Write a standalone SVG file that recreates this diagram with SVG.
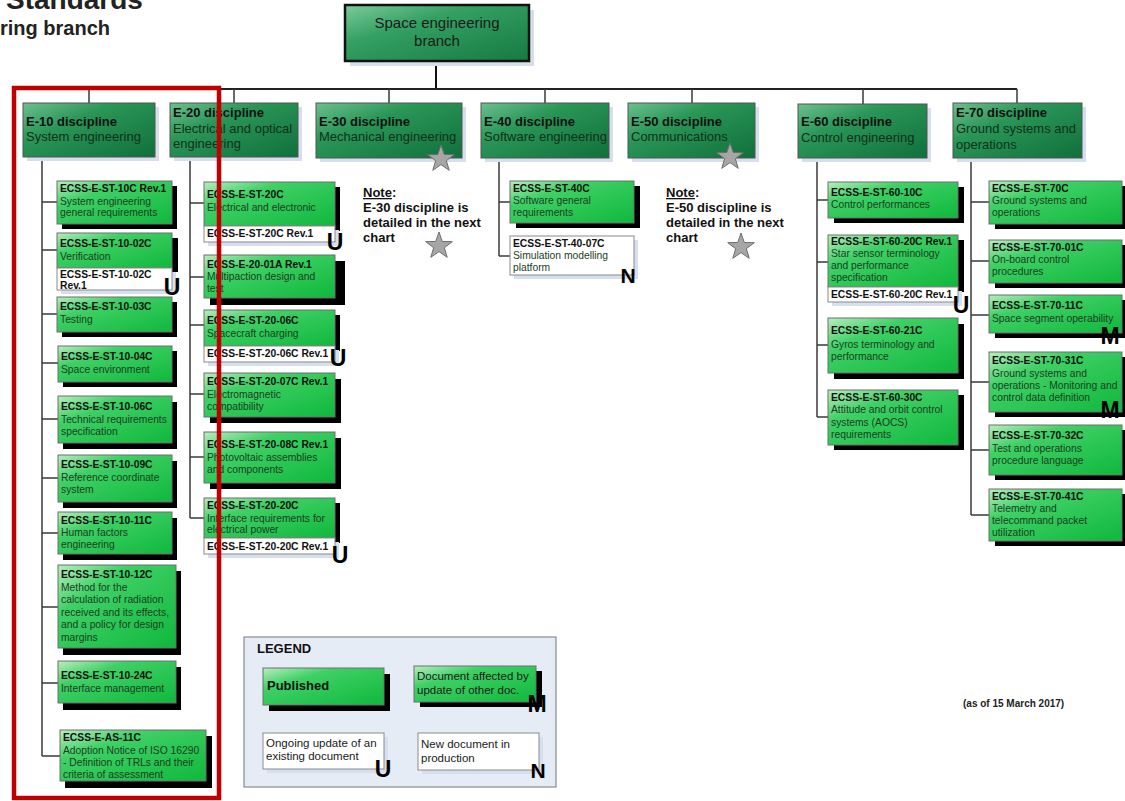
<svg xmlns="http://www.w3.org/2000/svg" width="1125" height="801" viewBox="0 0 1125 801">
<defs>
<linearGradient id="gD" x1="0" y1="0" x2="1" y2="1"><stop offset="0" stop-color="#6cc08f"/><stop offset="0.35" stop-color="#2a9658"/><stop offset="1" stop-color="#10703a"/></linearGradient>
<linearGradient id="gM" x1="0" y1="0" x2="1" y2="1"><stop offset="0" stop-color="#7ccb9c"/><stop offset="0.35" stop-color="#34a062"/><stop offset="1" stop-color="#167a41"/></linearGradient>
<linearGradient id="gG" x1="0" y1="0" x2="1" y2="1"><stop offset="0" stop-color="#b8eec0"/><stop offset="0.3" stop-color="#3fd066"/><stop offset="1" stop-color="#0fb83c"/></linearGradient>
<path id="star" d="M0,-14 L3.29,-4.53 L13.31,-4.33 L5.33,1.73 L8.23,11.33 L0,5.6 L-8.23,11.33 L-5.33,1.73 L-13.31,-4.33 L-3.29,-4.53 Z"/>
<style>
text{font-family:"Liberation Sans",Arial,sans-serif}
.disc{fill:url(#gD);stroke:#555;stroke-width:1}
.ls{fill:#d6dfee}
.doc{fill:url(#gG);stroke:#6f6f6f;stroke-width:1}
.bs{fill:#000}
.upd{fill:#fff;stroke:#8a8a8a;stroke-width:1}
.dh{font-weight:bold;font-size:13px;fill:#111}
.ds{font-size:13px;fill:#10301a}
.c{font-weight:bold;font-size:10.3px;fill:#111}
.d{font-size:10.3px;fill:#1b3d22}
.ic{font-weight:bold;font-size:23px;fill:#000;text-anchor:middle}
.nt{font-weight:bold;font-size:13px;fill:#111}
.lt{font-size:11.5px;fill:#1a1a1a}
.st{fill:#a6a6a6;stroke:#6e6e6e;stroke-width:1}
.cn{stroke:#3a3a3a;stroke-width:1.5;fill:none}
</style>
</defs>
<rect width="1125" height="801" fill="#fff"/>

<g id="title">
<text x="6" y="9" style="font-weight:bold;font-size:28px" fill="#222">Standards</text>
<text x="0" y="35" style="font-weight:bold;font-size:20px" fill="#222">ring branch</text>
</g>

<g id="connectors">
<line class="cn" x1="436" y1="61" x2="436" y2="89" style="stroke:#111;stroke-width:2"/>
<line class="cn" x1="89" y1="89" x2="1017" y2="89" style="stroke:#222;stroke-width:1.8"/>
<path class="cn" d="M89,89V103M234,89V103M389,89V103M545,89V103M692,89V103M863,89V104M1017,89V103"/>
<path class="cn" d="M42,157V756M42,202H57M42,250H57M42,314H57M42,363H58M42,419H58M42,478H58M42,533H58M42,607H58M42,683H58M42,756H60"/>
<path class="cn" d="M190,157V518M190,203H204M190,277H204M190,325H204M190,394H204M190,457H204M190,518H204"/>
<path class="cn" d="M499,158V256M499,202H510M499,256H510"/>
<path class="cn" d="M817,158V417M817,200H828M817,262H828M817,345H828M817,417H828"/>
<path class="cn" d="M971,158V515M971,202H989M971,261H989M971,315H989M971,382H989M971,450H989M971,515H989"/>
</g>

<g id="root">
<rect class="ls" x="350" y="10" width="184" height="56"/>
<rect x="345" y="5" width="184" height="56" fill="url(#gM)" stroke="#111" stroke-width="2.5"/>
<text x="437" y="28" text-anchor="middle" style="font-size:15px" fill="#1a1a1a">Space engineering</text>
<text x="437" y="46" text-anchor="middle" style="font-size:15px" fill="#1a1a1a">branch</text>
</g>

<g id="E10">
<rect class="ls" x="27" y="107" width="132" height="54"/>
<rect class="disc" x="23" y="103" width="132" height="54"/>
<text class="dh" x="26" y="126">E-10 discipline</text>
<text class="ds" x="26" y="141">System engineering</text>
</g>
<g id="E20">
<rect class="ls" x="174" y="107" width="128" height="54"/>
<rect class="disc" x="170" y="103" width="128" height="54"/>
<text class="dh" x="173" y="117">E-20 discipline</text>
<text class="ds" x="173" y="133">Electrical and optical</text>
<text class="ds" x="173" y="148">engineering</text>
</g>
<g id="E30">
<rect class="ls" x="320" y="107" width="146" height="55"/>
<rect class="disc" x="316" y="103" width="146" height="55"/>
<text class="dh" x="319" y="126">E-30 discipline</text>
<text class="ds" x="319" y="141">Mechanical engineering</text>
<use href="#star" class="st" x="441" y="159"/>
</g>
<g id="E40">
<rect class="ls" x="485" y="107" width="128" height="55"/>
<rect class="disc" x="481" y="103" width="128" height="55"/>
<text class="dh" x="484" y="126">E-40 discipline</text>
<text class="ds" x="484" y="141">Software engineering</text>
</g>
<g id="E50">
<rect class="ls" x="632" y="107" width="127" height="55"/>
<rect class="disc" x="628" y="103" width="127" height="55"/>
<text class="dh" x="631" y="126">E-50 discipline</text>
<text class="ds" x="631" y="141">Communications</text>
<use href="#star" class="st" x="730" y="157"/>
</g>
<g id="E60">
<rect class="ls" x="802" y="108" width="129" height="54"/>
<rect class="disc" x="798" y="104" width="129" height="54"/>
<text class="dh" x="801" y="126">E-60 discipline</text>
<text class="ds" x="801" y="142">Control engineering</text>
</g>
<g id="E70">
<rect class="ls" x="957" y="107" width="129" height="55"/>
<rect class="disc" x="953" y="103" width="129" height="55"/>
<text class="dh" x="956" y="117">E-70 discipline</text>
<text class="ds" x="956" y="133">Ground systems and</text>
<text class="ds" x="956" y="149">operations</text>
</g>

<g id="note30">
<text class="nt" x="363" y="197" text-decoration="underline">Note</text><text class="nt" x="392" y="197">:</text>
<text class="nt"><tspan x="363" y="212">E-30 discipline is</tspan><tspan x="363" y="227">detailed in the next</tspan><tspan x="363" y="242">chart</tspan></text>
<use href="#star" class="st" x="439" y="246"/>
</g>
<g id="note50">
<text class="nt" x="666" y="197" text-decoration="underline">Note</text><text class="nt" x="695" y="197">:</text>
<text class="nt"><tspan x="666" y="212">E-50 discipline is</tspan><tspan x="666" y="227">detailed in the next</tspan><tspan x="666" y="242">chart</tspan></text>
<use href="#star" class="st" x="741" y="247"/>
</g>

<!-- E-10 documents -->
<g id="d10-1"><rect class="bs" x="62" y="186" width="115" height="43"/><rect class="doc" x="57" y="181" width="115" height="43"/>
<text class="c" x="60" y="192">ECSS-E-ST-10C Rev.1</text><text class="d"><tspan x="60" y="205">System engineering</tspan><tspan x="60" y="216">general requirements</tspan></text></g>
<g id="d10-2"><rect class="bs" x="62" y="238" width="116" height="34"/><rect class="ls" x="61" y="272" width="115" height="22"/><rect class="doc" x="57" y="233" width="115" height="35"/><rect class="upd" x="57" y="268" width="115" height="22"/>
<text class="c" x="60" y="247">ECSS-E-ST-10-02C</text><text class="d" x="60" y="260">Verification</text>
<text class="c"><tspan x="60" y="278">ECSS-E-ST-10-02C</tspan><tspan x="60" y="289">Rev.1</tspan></text><text class="ic" x="172" y="295">U</text></g>
<g id="d10-3"><rect class="bs" x="62" y="302" width="115" height="35"/><rect class="doc" x="57" y="297" width="115" height="35"/>
<text class="c" x="60" y="310">ECSS-E-ST-10-03C</text><text class="d" x="60" y="323">Testing</text></g>
<g id="d10-4"><rect class="bs" x="63" y="351" width="114" height="36"/><rect class="doc" x="58" y="346" width="114" height="36"/>
<text class="c" x="61" y="360">ECSS-E-ST-10-04C</text><text class="d" x="61" y="373">Space environment</text></g>
<g id="d10-5"><rect class="bs" x="63" y="402" width="114" height="47"/><rect class="doc" x="58" y="396" width="114" height="47"/>
<text class="c" x="61" y="410">ECSS-E-ST-10-06C</text><text class="d"><tspan x="61" y="423">Technical requirements</tspan><tspan x="61" y="435">specification</tspan></text></g>
<g id="d10-6"><rect class="bs" x="63" y="461" width="114" height="47"/><rect class="doc" x="58" y="455" width="114" height="47"/>
<text class="c" x="61" y="468">ECSS-E-ST-10-09C</text><text class="d"><tspan x="61" y="481">Reference coordinate</tspan><tspan x="61" y="493">system</tspan></text></g>
<g id="d10-7"><rect class="bs" x="63" y="518" width="114" height="42"/><rect class="doc" x="58" y="512" width="114" height="42"/>
<text class="c" x="61" y="524">ECSS-E-ST-10-11C</text><text class="d"><tspan x="61" y="536">Human factors</tspan><tspan x="61" y="548">engineering</tspan></text></g>
<g id="d10-8"><rect class="bs" x="63" y="571" width="118" height="84"/><rect class="doc" x="58" y="565" width="118" height="83"/>
<text class="c" x="61" y="578">ECSS-E-ST-10-12C</text><text class="d"><tspan x="61" y="591">Method for the</tspan><tspan x="61" y="603">calculation of radiation</tspan><tspan x="61" y="616">received and its effects,</tspan><tspan x="61" y="628">and a policy for design</tspan><tspan x="61" y="641">margins</tspan></text></g>
<g id="d10-9"><rect class="bs" x="63" y="667" width="118" height="43"/><rect class="doc" x="58" y="661" width="118" height="42"/>
<text class="c" x="61" y="679">ECSS-E-ST-10-24C</text><text class="d" x="61" y="692">Interface management</text></g>
<g id="d10-10"><rect class="bs" x="65" y="736" width="147" height="52"/><rect class="doc" x="60" y="730" width="146" height="51"/>
<text class="c" x="63" y="741">ECSS-E-AS-11C</text><text class="d"><tspan x="63" y="754">Adoption Notice of ISO 16290</tspan><tspan x="63" y="766">- Definition of TRLs and their</tspan><tspan x="63" y="778">criteria of assessment</tspan></text></g>

<!-- E-20 documents -->
<g id="d20-1"><rect class="bs" x="209" y="187" width="131" height="44"/><rect class="ls" x="208" y="230" width="131" height="16"/><rect class="doc" x="204" y="182" width="131" height="44"/><rect class="upd" x="204" y="226" width="131" height="16"/>
<text class="c" x="207" y="198">ECSS-E-ST-20C</text><text class="d" x="207" y="211">Electrical and electronic</text>
<text class="c" x="207" y="237">ECSS-E-ST-20C Rev.1</text><text class="ic" x="335" y="250">U</text></g>
<g id="d20-2"><rect class="bs" x="210" y="261" width="135" height="44"/><rect class="doc" x="204" y="255" width="131" height="43"/>
<text class="c" x="207" y="268">ECSS-E-20-01A Rev.1</text><text class="d"><tspan x="207" y="280">Multipaction design and</tspan><tspan x="207" y="292">test</tspan></text></g>
<g id="d20-3"><rect class="bs" x="209" y="315" width="131" height="36"/><rect class="ls" x="208" y="350" width="131" height="16"/><rect class="doc" x="204" y="310" width="131" height="36"/><rect class="upd" x="204" y="346" width="131" height="16"/>
<text class="c" x="207" y="324">ECSS-E-ST-20-06C</text><text class="d" x="207" y="337">Spacecraft charging</text>
<text class="c" x="207" y="357">ECSS-E-ST-20-06C Rev.1</text><text class="ic" x="338" y="366">U</text></g>
<g id="d20-4"><rect class="bs" x="210" y="379" width="131" height="44"/><rect class="doc" x="204" y="373" width="131" height="44"/>
<text class="c" x="207" y="385">ECSS-E-ST-20-07C Rev.1</text><text class="d"><tspan x="207" y="398">Electromagnetic</tspan><tspan x="207" y="410">compatibility</tspan></text></g>
<g id="d20-5"><rect class="bs" x="210" y="438" width="131" height="51"/><rect class="doc" x="204" y="432" width="131" height="51"/>
<text class="c" x="207" y="448">ECSS-E-ST-20-08C Rev.1</text><text class="d"><tspan x="207" y="461">Photovoltaic assemblies</tspan><tspan x="207" y="473">and components</tspan></text></g>
<g id="d20-6"><rect class="bs" x="209" y="503" width="131" height="40"/><rect class="ls" x="208" y="542" width="131" height="16"/><rect class="doc" x="204" y="498" width="131" height="40"/><rect class="upd" x="204" y="538" width="131" height="16"/>
<text class="c" x="207" y="509">ECSS-E-ST-20-20C</text><text class="d"><tspan x="207" y="522">Interface requirements for</tspan><tspan x="207" y="533">electrical power</tspan></text>
<text class="c" x="207" y="550">ECSS-E-ST-20-20C Rev.1</text><text class="ic" x="340" y="563">U</text></g>

<!-- E-40 documents -->
<g id="d40-1"><rect class="bs" x="516" y="186" width="124" height="42"/><rect class="doc" x="510" y="181" width="124" height="42"/>
<text class="c" x="513" y="192">ECSS-E-ST-40C</text><text class="d"><tspan x="513" y="204">Software general</tspan><tspan x="513" y="216">requirements</tspan></text></g>
<g id="d40-2"><rect class="ls" x="514" y="240" width="124" height="39"/><rect class="upd" x="510" y="236" width="124" height="39"/>
<text class="c" x="513" y="247">ECSS-E-ST-40-07C</text><text class="d"><tspan x="513" y="259">Simulation modelling</tspan><tspan x="513" y="271">platform</tspan></text><text class="ic" x="628" y="283" style="font-size:21px">N</text></g>

<!-- E-60 documents -->
<g id="d60-1"><rect class="bs" x="834" y="187" width="130" height="36"/><rect class="doc" x="828" y="182" width="130" height="36"/>
<text class="c" x="831" y="196">ECSS-E-ST-60-10C</text><text class="d" x="831" y="208">Control performances</text></g>
<g id="d60-2"><rect class="bs" x="833" y="240" width="131" height="52"/><rect class="ls" x="832" y="291" width="130" height="15"/><rect class="doc" x="828" y="235" width="130" height="52"/><rect class="upd" x="828" y="287" width="130" height="15"/>
<text class="c" x="831" y="245">ECSS-E-ST-60-20C Rev.1</text><text class="d"><tspan x="831" y="257">Star sensor terminology</tspan><tspan x="831" y="269">and performance</tspan><tspan x="831" y="281">specification</tspan></text>
<text class="c" x="831" y="298">ECSS-E-ST-60-20C Rev.1</text><text class="ic" x="961" y="313">U</text></g>
<g id="d60-3"><rect class="bs" x="834" y="324" width="130" height="55"/><rect class="doc" x="828" y="318" width="130" height="55"/>
<text class="c" x="831" y="334">ECSS-E-ST-60-21C</text><text class="d"><tspan x="831" y="348">Gyros terminology and</tspan><tspan x="831" y="360">performance</tspan></text></g>
<g id="d60-4"><rect class="bs" x="834" y="395" width="130" height="55"/><rect class="doc" x="828" y="390" width="130" height="55"/>
<text class="c" x="831" y="401">ECSS-E-ST-60-30C</text><text class="d"><tspan x="831" y="413">Attitude and orbit control</tspan><tspan x="831" y="426">systems (AOCS)</tspan><tspan x="831" y="438">requirements</tspan></text></g>

<!-- E-70 documents -->
<g id="d70-1"><rect class="bs" x="995" y="186" width="133" height="43"/><rect class="doc" x="989" y="181" width="133" height="43"/>
<text class="c" x="992" y="192">ECSS-E-ST-70C</text><text class="d"><tspan x="992" y="204">Ground systems and</tspan><tspan x="992" y="216">operations</tspan></text></g>
<g id="d70-2"><rect class="bs" x="995" y="245" width="133" height="43"/><rect class="doc" x="989" y="240" width="133" height="43"/>
<text class="c" x="992" y="251">ECSS-E-ST-70-01C</text><text class="d"><tspan x="992" y="263">On-board control</tspan><tspan x="992" y="275">procedures</tspan></text></g>
<g id="d70-3"><rect class="bs" x="995" y="300" width="133" height="38"/><rect class="doc" x="989" y="295" width="133" height="38"/>
<text class="c" x="992" y="309">ECSS-E-ST-70-11C</text><text class="d" x="992" y="322">Space segment operability</text><text class="ic" x="1110" y="344">M</text></g>
<g id="d70-4"><rect class="bs" x="995" y="357" width="133" height="60"/><rect class="doc" x="989" y="352" width="133" height="60"/>
<text class="c" x="992" y="364">ECSS-E-ST-70-31C</text><text class="d"><tspan x="992" y="377">Ground systems and</tspan><tspan x="992" y="389">operations - Monitoring and</tspan><tspan x="992" y="401">control data definition</tspan></text><text class="ic" x="1110" y="418">M</text></g>
<g id="d70-5"><rect class="bs" x="995" y="430" width="133" height="50"/><rect class="doc" x="989" y="425" width="133" height="50"/>
<text class="c" x="992" y="439">ECSS-E-ST-70-32C</text><text class="d"><tspan x="992" y="452">Test and operations</tspan><tspan x="992" y="464">procedure language</tspan></text></g>
<g id="d70-6"><rect class="bs" x="995" y="494" width="133" height="52"/><rect class="doc" x="989" y="489" width="133" height="52"/>
<text class="c" x="992" y="500">ECSS-E-ST-70-41C</text><text class="d"><tspan x="992" y="512">Telemetry and</tspan><tspan x="992" y="524">telecommand packet</tspan><tspan x="992" y="536">utilization</tspan></text></g>

<!-- Legend -->
<g id="legend">
<rect x="244" y="637" width="312" height="150" fill="#e6ecf6" stroke="#8a8a8a" stroke-width="1.2"/>
<text x="257" y="653" style="font-weight:bold;font-size:13px" fill="#111">LEGEND</text>
<rect class="bs" x="269" y="674" width="121" height="37"/><rect class="doc" x="263" y="668" width="121" height="37"/>
<text x="267" y="690" style="font-weight:bold;font-size:13px" fill="#111">Published</text>
<rect class="bs" x="420" y="671" width="122" height="36"/><rect class="doc" x="414" y="666" width="122" height="36"/>
<text class="lt"><tspan x="417" y="680">Document affected by</tspan><tspan x="417" y="694">update of other doc.</tspan></text>
<text class="ic" x="537" y="712">M</text>
<rect class="ls" x="267" y="737" width="121" height="36"/><rect class="upd" x="263" y="733" width="121" height="36"/>
<text class="lt"><tspan x="266" y="747">Ongoing update of an</tspan><tspan x="266" y="760">existing document</tspan></text>
<text class="ic" x="383" y="777">U</text>
<rect class="ls" x="422" y="737" width="121" height="37"/><rect class="upd" x="418" y="733" width="121" height="37"/>
<text class="lt"><tspan x="421" y="748">New document in</tspan><tspan x="421" y="762">production</tspan></text>
<text class="ic" x="538" y="778" style="font-size:21px">N</text>
</g>

<text x="963" y="707" style="font-weight:bold;font-size:10px" fill="#222">(as of 15 March 2017)</text>

<rect id="highlight" x="14" y="88" width="205" height="710" fill="none" stroke="#c00000" stroke-width="4.5"/>
</svg>
